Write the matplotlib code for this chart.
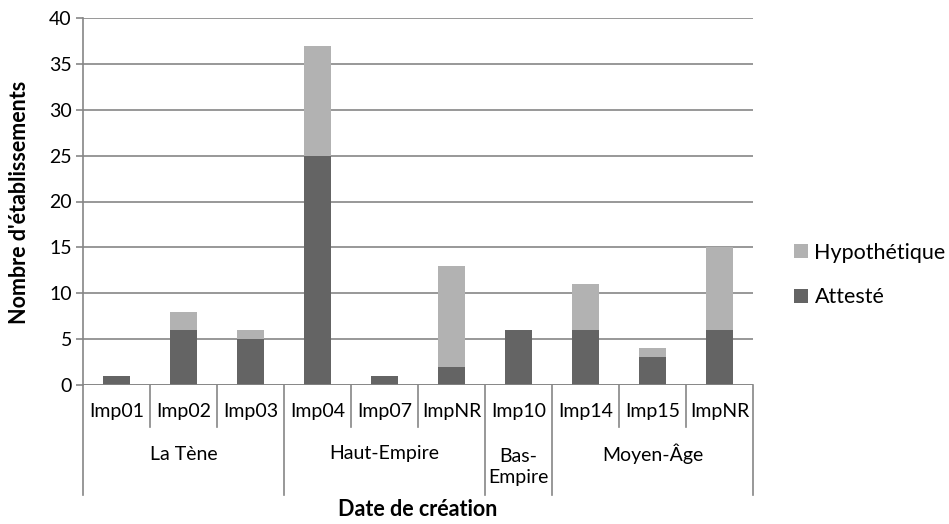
import matplotlib
matplotlib.use("Agg")
import matplotlib.pyplot as plt
import matplotlib.transforms as mtransforms
import numpy as np

categories = ["Imp01", "Imp02", "Imp03", "Imp04", "Imp07", "ImpNR", "Imp10", "Imp14", "Imp15", "ImpNR"]
groups = ["La Tène", "Haut-Empire", "Bas-\nEmpire", "Moyen-Âge"]
group_sizes = [3, 3, 1, 3]
atteste = [1, 6, 5, 25, 1, 2, 6, 6, 3, 6]
hypothetique = [0, 2, 1, 12, 0, 11, 0, 5, 1, 9]
yticks = [0, 5, 10, 15, 20, 25, 30, 35, 40]

plt.rcParams['font.family'] = ['Lato', 'DejaVu Sans']

W, H = 949, 524
fig = plt.figure(figsize=(W/100, H/100), dpi=100)
ax = fig.add_axes([83/W, 1-385/H, (753-83)/W, (385-18)/H])
AH = 367.0

x = np.arange(len(categories))
c_att = "#646464"
c_hyp = "#b2b2b2"
grid_c = "#868686"
ax.bar(x, atteste, width=0.4, color=c_att, label="Attesté", zorder=3)
ax.bar(x, hypothetique, width=0.4, bottom=atteste, color=c_hyp, label="Hypothétique", zorder=3)

ax.set_xlim(-0.5, len(categories) - 0.5)
ax.set_ylim(0, 40)
ax.set_yticks(yticks)
ax.set_yticklabels([str(v) for v in yticks], fontsize=14)
ax.yaxis.grid(True, color=grid_c, linewidth=1.2, zorder=0)
ax.set_axisbelow(True)
for s in ["top", "right", "bottom"]:
    ax.spines[s].set_visible(False)
ax.spines["left"].set_color(grid_c)
ax.spines["left"].set_linewidth(1.2)
ax.tick_params(axis="y", length=5, color=grid_c, width=1.2, pad=3)
ax.set_xticks([])
ax.axhline(0, color=grid_c, linewidth=1.2, zorder=4)

trans = mtransforms.blended_transform_factory(ax.transData, ax.transAxes)
short_y = -(427-385)/AH
long_y = -(495-385)/AH
bounds = np.cumsum([0] + group_sizes) - 0.5
for b in np.arange(-0.5, len(categories), 1.0):
    yend = long_y if b in bounds else short_y
    ax.plot([b, b], [0, yend], transform=trans, color=grid_c, linewidth=1.2, clip_on=False)
for i, c in enumerate(categories):
    ax.text(i, -(412-385)/AH, c, transform=trans, ha="center", va="center", fontsize=14)
for g, lo, hi in zip(groups, bounds[:-1], bounds[1:]):
    ypos = -(467-385)/AH if "\n" in g else -(454-385)/AH
    ax.text((lo+hi)/2, ypos, g, transform=trans, ha="center", va="center", fontsize=14, linespacing=1.3)

fig.text(20/W, 1-202/H, "Nombre d'établissements", rotation=90, ha="center", va="center",
         fontsize=15.5, fontweight="bold")
fig.text(418/W, 1-509/H, "Date de création", ha="center", va="center", fontsize=15.5, fontweight="bold")

handles, labels = ax.get_legend_handles_labels()
leg = fig.legend(handles[::-1], labels[::-1], loc="center left", bbox_to_anchor=(794/W, 1-275/H),
                 frameon=False, fontsize=15.5, handlelength=0.65, handleheight=0.65, handletextpad=0.3,
                 labelspacing=1.15, borderaxespad=0, borderpad=0)

fig.savefig("out.png", dpi=100)
